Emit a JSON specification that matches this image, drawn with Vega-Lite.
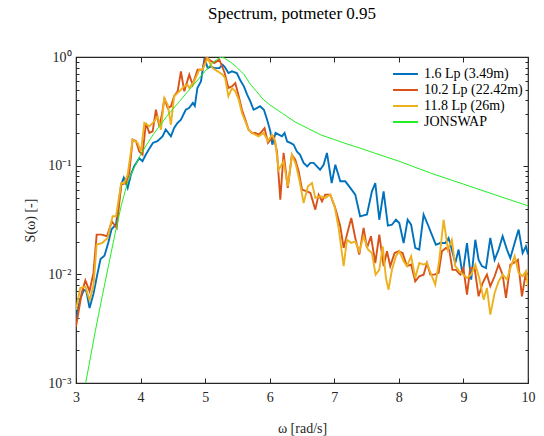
{
  "$schema": "https://vega.github.io/schema/vega-lite/v6.json",
  "width": 452,
  "height": 326,
  "autosize": {"type": "none"},
  "padding": {"left": 76, "top": 57, "right": 16, "bottom": 53},
  "title": {"text": "Spectrum, potmeter 0.95", "font": "Liberation Serif", "fontSize": 17, "fontWeight": "normal", "color": "#000000", "anchor": "middle", "offset": 27, "dx": -10},
  "config": {
    "view": {"stroke": "#262626", "strokeWidth": 1.2},
    "font": "Liberation Serif",
    "legend": {"orient": "none", "legendX": 316, "legendY": 9, "title": null, "symbolType": "stroke", "symbolSize": 620, "symbolStrokeWidth": 2, "labelFont": "Liberation Serif", "labelFontSize": 14, "labelColor": "#000000", "clipHeight": 16, "rowPadding": 0, "padding": 0, "labelOffset": 5}
  },
  "datasets": {
    "spec": [
      {"w": 3.00, "S": 0.0038, "series": "1.6 Lp (3.49m)"},
      {"w": 3.06, "S": 0.0058, "series": "1.6 Lp (3.49m)"},
      {"w": 3.12, "S": 0.0072, "series": "1.6 Lp (3.49m)"},
      {"w": 3.16, "S": 0.0070, "series": "1.6 Lp (3.49m)"},
      {"w": 3.21, "S": 0.0049, "series": "1.6 Lp (3.49m)"},
      {"w": 3.27, "S": 0.0066, "series": "1.6 Lp (3.49m)"},
      {"w": 3.33, "S": 0.0100, "series": "1.6 Lp (3.49m)"},
      {"w": 3.38, "S": 0.0138, "series": "1.6 Lp (3.49m)"},
      {"w": 3.44, "S": 0.0148, "series": "1.6 Lp (3.49m)"},
      {"w": 3.50, "S": 0.0195, "series": "1.6 Lp (3.49m)"},
      {"w": 3.55, "S": 0.0260, "series": "1.6 Lp (3.49m)"},
      {"w": 3.62, "S": 0.0288, "series": "1.6 Lp (3.49m)"},
      {"w": 3.70, "S": 0.0668, "series": "1.6 Lp (3.49m)"},
      {"w": 3.74, "S": 0.0776, "series": "1.6 Lp (3.49m)"},
      {"w": 3.80, "S": 0.0624, "series": "1.6 Lp (3.49m)"},
      {"w": 3.85, "S": 0.0826, "series": "1.6 Lp (3.49m)"},
      {"w": 3.90, "S": 0.0986, "series": "1.6 Lp (3.49m)"},
      {"w": 3.98, "S": 0.117, "series": "1.6 Lp (3.49m)"},
      {"w": 4.03, "S": 0.110, "series": "1.6 Lp (3.49m)"},
      {"w": 4.08, "S": 0.126, "series": "1.6 Lp (3.49m)"},
      {"w": 4.14, "S": 0.145, "series": "1.6 Lp (3.49m)"},
      {"w": 4.19, "S": 0.162, "series": "1.6 Lp (3.49m)"},
      {"w": 4.26, "S": 0.168, "series": "1.6 Lp (3.49m)"},
      {"w": 4.34, "S": 0.186, "series": "1.6 Lp (3.49m)"},
      {"w": 4.39, "S": 0.215, "series": "1.6 Lp (3.49m)"},
      {"w": 4.47, "S": 0.186, "series": "1.6 Lp (3.49m)"},
      {"w": 4.52, "S": 0.222, "series": "1.6 Lp (3.49m)"},
      {"w": 4.57, "S": 0.247, "series": "1.6 Lp (3.49m)"},
      {"w": 4.625, "S": 0.265, "series": "1.6 Lp (3.49m)"},
      {"w": 4.70, "S": 0.327, "series": "1.6 Lp (3.49m)"},
      {"w": 4.75, "S": 0.339, "series": "1.6 Lp (3.49m)"},
      {"w": 4.81, "S": 0.378, "series": "1.6 Lp (3.49m)"},
      {"w": 4.84, "S": 0.355, "series": "1.6 Lp (3.49m)"},
      {"w": 4.88, "S": 0.519, "series": "1.6 Lp (3.49m)"},
      {"w": 4.935, "S": 0.597, "series": "1.6 Lp (3.49m)"},
      {"w": 4.99, "S": 0.977, "series": "1.6 Lp (3.49m)"},
      {"w": 5.04, "S": 0.79, "series": "1.6 Lp (3.49m)"},
      {"w": 5.09, "S": 0.82, "series": "1.6 Lp (3.49m)"},
      {"w": 5.14, "S": 0.79, "series": "1.6 Lp (3.49m)"},
      {"w": 5.22, "S": 0.79, "series": "1.6 Lp (3.49m)"},
      {"w": 5.27, "S": 0.85, "series": "1.6 Lp (3.49m)"},
      {"w": 5.31, "S": 0.80, "series": "1.6 Lp (3.49m)"},
      {"w": 5.36, "S": 0.711, "series": "1.6 Lp (3.49m)"},
      {"w": 5.415, "S": 0.738, "series": "1.6 Lp (3.49m)"},
      {"w": 5.49, "S": 0.711, "series": "1.6 Lp (3.49m)"},
      {"w": 5.54, "S": 0.618, "series": "1.6 Lp (3.49m)"},
      {"w": 5.60, "S": 0.537, "series": "1.6 Lp (3.49m)"},
      {"w": 5.65, "S": 0.450, "series": "1.6 Lp (3.49m)"},
      {"w": 5.70, "S": 0.391, "series": "1.6 Lp (3.49m)"},
      {"w": 5.75, "S": 0.327, "series": "1.6 Lp (3.49m)"},
      {"w": 5.80, "S": 0.339, "series": "1.6 Lp (3.49m)"},
      {"w": 5.85, "S": 0.352, "series": "1.6 Lp (3.49m)"},
      {"w": 5.91, "S": 0.327, "series": "1.6 Lp (3.49m)"},
      {"w": 5.96, "S": 0.265, "series": "1.6 Lp (3.49m)"},
      {"w": 6.01, "S": 0.207, "series": "1.6 Lp (3.49m)"},
      {"w": 6.04, "S": 0.156, "series": "1.6 Lp (3.49m)"},
      {"w": 6.09, "S": 0.200, "series": "1.6 Lp (3.49m)"},
      {"w": 6.14, "S": 0.193, "series": "1.6 Lp (3.49m)"},
      {"w": 6.19, "S": 0.186, "series": "1.6 Lp (3.49m)"},
      {"w": 6.23, "S": 0.200, "series": "1.6 Lp (3.49m)"},
      {"w": 6.27, "S": 0.167, "series": "1.6 Lp (3.49m)"},
      {"w": 6.32, "S": 0.162, "series": "1.6 Lp (3.49m)"},
      {"w": 6.37, "S": 0.156, "series": "1.6 Lp (3.49m)"},
      {"w": 6.42, "S": 0.135, "series": "1.6 Lp (3.49m)"},
      {"w": 6.47, "S": 0.126, "series": "1.6 Lp (3.49m)"},
      {"w": 6.525, "S": 0.106, "series": "1.6 Lp (3.49m)"},
      {"w": 6.58, "S": 0.0986, "series": "1.6 Lp (3.49m)"},
      {"w": 6.63, "S": 0.106, "series": "1.6 Lp (3.49m)"},
      {"w": 6.68, "S": 0.106, "series": "1.6 Lp (3.49m)"},
      {"w": 6.73, "S": 0.0986, "series": "1.6 Lp (3.49m)"},
      {"w": 6.78, "S": 0.0918, "series": "1.6 Lp (3.49m)"},
      {"w": 6.835, "S": 0.102, "series": "1.6 Lp (3.49m)"},
      {"w": 6.886, "S": 0.131, "series": "1.6 Lp (3.49m)"},
      {"w": 6.96, "S": 0.0692, "series": "1.6 Lp (3.49m)"},
      {"w": 7.016, "S": 0.102, "series": "1.6 Lp (3.49m)"},
      {"w": 7.093, "S": 0.0718, "series": "1.6 Lp (3.49m)"},
      {"w": 7.17, "S": 0.0718, "series": "1.6 Lp (3.49m)"},
      {"w": 7.248, "S": 0.0624, "series": "1.6 Lp (3.49m)"},
      {"w": 7.325, "S": 0.0541, "series": "1.6 Lp (3.49m)"},
      {"w": 7.40, "S": 0.0342, "series": "1.6 Lp (3.49m)"},
      {"w": 7.506, "S": 0.0355, "series": "1.6 Lp (3.49m)"},
      {"w": 7.583, "S": 0.058, "series": "1.6 Lp (3.49m)"},
      {"w": 7.635, "S": 0.0692, "series": "1.6 Lp (3.49m)"},
      {"w": 7.697, "S": 0.0318, "series": "1.6 Lp (3.49m)"},
      {"w": 7.764, "S": 0.058, "series": "1.6 Lp (3.49m)"},
      {"w": 7.83, "S": 0.0281, "series": "1.6 Lp (3.49m)"},
      {"w": 7.893, "S": 0.0286, "series": "1.6 Lp (3.49m)"},
      {"w": 7.955, "S": 0.0318, "series": "1.6 Lp (3.49m)"},
      {"w": 8.007, "S": 0.0297, "series": "1.6 Lp (3.49m)"},
      {"w": 8.074, "S": 0.0194, "series": "1.6 Lp (3.49m)"},
      {"w": 8.136, "S": 0.0318, "series": "1.6 Lp (3.49m)"},
      {"w": 8.19, "S": 0.0286, "series": "1.6 Lp (3.49m)"},
      {"w": 8.254, "S": 0.0175, "series": "1.6 Lp (3.49m)"},
      {"w": 8.316, "S": 0.0169, "series": "1.6 Lp (3.49m)"},
      {"w": 8.383, "S": 0.0354, "series": "1.6 Lp (3.49m)"},
      {"w": 8.45, "S": 0.0286, "series": "1.6 Lp (3.49m)"},
      {"w": 8.51, "S": 0.0232, "series": "1.6 Lp (3.49m)"},
      {"w": 8.574, "S": 0.0187, "series": "1.6 Lp (3.49m)"},
      {"w": 8.64, "S": 0.0194, "series": "1.6 Lp (3.49m)"},
      {"w": 8.72, "S": 0.0194, "series": "1.6 Lp (3.49m)"},
      {"w": 8.77, "S": 0.0216, "series": "1.6 Lp (3.49m)"},
      {"w": 8.82, "S": 0.0169, "series": "1.6 Lp (3.49m)"},
      {"w": 8.874, "S": 0.0127, "series": "1.6 Lp (3.49m)"},
      {"w": 8.925, "S": 0.0169, "series": "1.6 Lp (3.49m)"},
      {"w": 8.987, "S": 0.00993, "series": "1.6 Lp (3.49m)"},
      {"w": 9.055, "S": 0.0194, "series": "1.6 Lp (3.49m)"},
      {"w": 9.12, "S": 0.00893, "series": "1.6 Lp (3.49m)"},
      {"w": 9.184, "S": 0.0208, "series": "1.6 Lp (3.49m)"},
      {"w": 9.235, "S": 0.0136, "series": "1.6 Lp (3.49m)"},
      {"w": 9.287, "S": 0.0119, "series": "1.6 Lp (3.49m)"},
      {"w": 9.349, "S": 0.0114, "series": "1.6 Lp (3.49m)"},
      {"w": 9.416, "S": 0.0216, "series": "1.6 Lp (3.49m)"},
      {"w": 9.483, "S": 0.0136, "series": "1.6 Lp (3.49m)"},
      {"w": 9.545, "S": 0.0169, "series": "1.6 Lp (3.49m)"},
      {"w": 9.607, "S": 0.0224, "series": "1.6 Lp (3.49m)"},
      {"w": 9.674, "S": 0.0169, "series": "1.6 Lp (3.49m)"},
      {"w": 9.726, "S": 0.0141, "series": "1.6 Lp (3.49m)"},
      {"w": 9.793, "S": 0.0194, "series": "1.6 Lp (3.49m)"},
      {"w": 9.855, "S": 0.0258, "series": "1.6 Lp (3.49m)"},
      {"w": 9.917, "S": 0.0157, "series": "1.6 Lp (3.49m)"},
      {"w": 9.968, "S": 0.0181, "series": "1.6 Lp (3.49m)"},
      {"w": 10.0, "S": 0.0152, "series": "1.6 Lp (3.49m)"},

      {"w": 3.00, "S": 0.0033, "series": "10.2 Lp (22.42m)"},
      {"w": 3.09, "S": 0.0068, "series": "10.2 Lp (22.42m)"},
      {"w": 3.145, "S": 0.0088, "series": "10.2 Lp (22.42m)"},
      {"w": 3.21, "S": 0.0070, "series": "10.2 Lp (22.42m)"},
      {"w": 3.27, "S": 0.0103, "series": "10.2 Lp (22.42m)"},
      {"w": 3.32, "S": 0.0232, "series": "10.2 Lp (22.42m)"},
      {"w": 3.40, "S": 0.0232, "series": "10.2 Lp (22.42m)"},
      {"w": 3.48, "S": 0.0224, "series": "10.2 Lp (22.42m)"},
      {"w": 3.555, "S": 0.0308, "series": "10.2 Lp (22.42m)"},
      {"w": 3.63, "S": 0.0267, "series": "10.2 Lp (22.42m)"},
      {"w": 3.70, "S": 0.0668, "series": "10.2 Lp (22.42m)"},
      {"w": 3.774, "S": 0.0693, "series": "10.2 Lp (22.42m)"},
      {"w": 3.825, "S": 0.0857, "series": "10.2 Lp (22.42m)"},
      {"w": 3.877, "S": 0.174, "series": "10.2 Lp (22.42m)"},
      {"w": 3.93, "S": 0.168, "series": "10.2 Lp (22.42m)"},
      {"w": 3.98, "S": 0.135, "series": "10.2 Lp (22.42m)"},
      {"w": 4.03, "S": 0.126, "series": "10.2 Lp (22.42m)"},
      {"w": 4.083, "S": 0.247, "series": "10.2 Lp (22.42m)"},
      {"w": 4.135, "S": 0.200, "series": "10.2 Lp (22.42m)"},
      {"w": 4.187, "S": 0.207, "series": "10.2 Lp (22.42m)"},
      {"w": 4.238, "S": 0.327, "series": "10.2 Lp (22.42m)"},
      {"w": 4.29, "S": 0.230, "series": "10.2 Lp (22.42m)"},
      {"w": 4.33, "S": 0.294, "series": "10.2 Lp (22.42m)"},
      {"w": 4.37, "S": 0.420, "series": "10.2 Lp (22.42m)"},
      {"w": 4.42, "S": 0.339, "series": "10.2 Lp (22.42m)"},
      {"w": 4.47, "S": 0.352, "series": "10.2 Lp (22.42m)"},
      {"w": 4.52, "S": 0.435, "series": "10.2 Lp (22.42m)"},
      {"w": 4.574, "S": 0.483, "series": "10.2 Lp (22.42m)"},
      {"w": 4.625, "S": 0.738, "series": "10.2 Lp (22.42m)"},
      {"w": 4.677, "S": 0.483, "series": "10.2 Lp (22.42m)"},
      {"w": 4.754, "S": 0.687, "series": "10.2 Lp (22.42m)"},
      {"w": 4.806, "S": 0.556, "series": "10.2 Lp (22.42m)"},
      {"w": 4.883, "S": 0.764, "series": "10.2 Lp (22.42m)"},
      {"w": 4.96, "S": 0.764, "series": "10.2 Lp (22.42m)"},
      {"w": 5.012, "S": 1.0, "series": "10.2 Lp (22.42m)"},
      {"w": 5.064, "S": 0.944, "series": "10.2 Lp (22.42m)"},
      {"w": 5.141, "S": 0.88, "series": "10.2 Lp (22.42m)"},
      {"w": 5.22, "S": 0.944, "series": "10.2 Lp (22.42m)"},
      {"w": 5.30, "S": 0.72, "series": "10.2 Lp (22.42m)"},
      {"w": 5.36, "S": 0.519, "series": "10.2 Lp (22.42m)"},
      {"w": 5.415, "S": 0.537, "series": "10.2 Lp (22.42m)"},
      {"w": 5.467, "S": 0.575, "series": "10.2 Lp (22.42m)"},
      {"w": 5.52, "S": 0.435, "series": "10.2 Lp (22.42m)"},
      {"w": 5.57, "S": 0.327, "series": "10.2 Lp (22.42m)"},
      {"w": 5.622, "S": 0.265, "series": "10.2 Lp (22.42m)"},
      {"w": 5.673, "S": 0.214, "series": "10.2 Lp (22.42m)"},
      {"w": 5.725, "S": 0.200, "series": "10.2 Lp (22.42m)"},
      {"w": 5.777, "S": 0.200, "series": "10.2 Lp (22.42m)"},
      {"w": 5.828, "S": 0.193, "series": "10.2 Lp (22.42m)"},
      {"w": 5.88, "S": 0.207, "series": "10.2 Lp (22.42m)"},
      {"w": 5.92, "S": 0.222, "series": "10.2 Lp (22.42m)"},
      {"w": 5.973, "S": 0.162, "series": "10.2 Lp (22.42m)"},
      {"w": 6.01, "S": 0.173, "series": "10.2 Lp (22.42m)"},
      {"w": 6.06, "S": 0.186, "series": "10.2 Lp (22.42m)"},
      {"w": 6.112, "S": 0.135, "series": "10.2 Lp (22.42m)"},
      {"w": 6.164, "S": 0.0486, "series": "10.2 Lp (22.42m)"},
      {"w": 6.215, "S": 0.131, "series": "10.2 Lp (22.42m)"},
      {"w": 6.28, "S": 0.0624, "series": "10.2 Lp (22.42m)"},
      {"w": 6.344, "S": 0.126, "series": "10.2 Lp (22.42m)"},
      {"w": 6.396, "S": 0.1135, "series": "10.2 Lp (22.42m)"},
      {"w": 6.448, "S": 0.0887, "series": "10.2 Lp (22.42m)"},
      {"w": 6.50, "S": 0.0603, "series": "10.2 Lp (22.42m)"},
      {"w": 6.577, "S": 0.058, "series": "10.2 Lp (22.42m)"},
      {"w": 6.63, "S": 0.0561, "series": "10.2 Lp (22.42m)"},
      {"w": 6.706, "S": 0.0394, "series": "10.2 Lp (22.42m)"},
      {"w": 6.757, "S": 0.0541, "series": "10.2 Lp (22.42m)"},
      {"w": 6.81, "S": 0.047, "series": "10.2 Lp (22.42m)"},
      {"w": 6.86, "S": 0.0541, "series": "10.2 Lp (22.42m)"},
      {"w": 6.938, "S": 0.0541, "series": "10.2 Lp (22.42m)"},
      {"w": 7.015, "S": 0.0408, "series": "10.2 Lp (22.42m)"},
      {"w": 7.093, "S": 0.0277, "series": "10.2 Lp (22.42m)"},
      {"w": 7.145, "S": 0.0175, "series": "10.2 Lp (22.42m)"},
      {"w": 7.196, "S": 0.0232, "series": "10.2 Lp (22.42m)"},
      {"w": 7.263, "S": 0.033, "series": "10.2 Lp (22.42m)"},
      {"w": 7.325, "S": 0.0216, "series": "10.2 Lp (22.42m)"},
      {"w": 7.387, "S": 0.0152, "series": "10.2 Lp (22.42m)"},
      {"w": 7.454, "S": 0.0267, "series": "10.2 Lp (22.42m)"},
      {"w": 7.506, "S": 0.0175, "series": "10.2 Lp (22.42m)"},
      {"w": 7.568, "S": 0.0224, "series": "10.2 Lp (22.42m)"},
      {"w": 7.635, "S": 0.0127, "series": "10.2 Lp (22.42m)"},
      {"w": 7.697, "S": 0.0232, "series": "10.2 Lp (22.42m)"},
      {"w": 7.764, "S": 0.0119, "series": "10.2 Lp (22.42m)"},
      {"w": 7.816, "S": 0.0163, "series": "10.2 Lp (22.42m)"},
      {"w": 7.867, "S": 0.0119, "series": "10.2 Lp (22.42m)"},
      {"w": 7.934, "S": 0.0157, "series": "10.2 Lp (22.42m)"},
      {"w": 7.996, "S": 0.0163, "series": "10.2 Lp (22.42m)"},
      {"w": 8.058, "S": 0.0157, "series": "10.2 Lp (22.42m)"},
      {"w": 8.125, "S": 0.0119, "series": "10.2 Lp (22.42m)"},
      {"w": 8.19, "S": 0.0123, "series": "10.2 Lp (22.42m)"},
      {"w": 8.254, "S": 0.00863, "series": "10.2 Lp (22.42m)"},
      {"w": 8.316, "S": 0.0096, "series": "10.2 Lp (22.42m)"},
      {"w": 8.383, "S": 0.00993, "series": "10.2 Lp (22.42m)"},
      {"w": 8.435, "S": 0.0127, "series": "10.2 Lp (22.42m)"},
      {"w": 8.487, "S": 0.00993, "series": "10.2 Lp (22.42m)"},
      {"w": 8.554, "S": 0.00993, "series": "10.2 Lp (22.42m)"},
      {"w": 8.616, "S": 0.0103, "series": "10.2 Lp (22.42m)"},
      {"w": 8.667, "S": 0.0163, "series": "10.2 Lp (22.42m)"},
      {"w": 8.73, "S": 0.0175, "series": "10.2 Lp (22.42m)"},
      {"w": 8.78, "S": 0.0169, "series": "10.2 Lp (22.42m)"},
      {"w": 8.83, "S": 0.011, "series": "10.2 Lp (22.42m)"},
      {"w": 8.884, "S": 0.011, "series": "10.2 Lp (22.42m)"},
      {"w": 8.95, "S": 0.00993, "series": "10.2 Lp (22.42m)"},
      {"w": 9.0, "S": 0.0114, "series": "10.2 Lp (22.42m)"},
      {"w": 9.055, "S": 0.0065, "series": "10.2 Lp (22.42m)"},
      {"w": 9.106, "S": 0.0114, "series": "10.2 Lp (22.42m)"},
      {"w": 9.173, "S": 0.0114, "series": "10.2 Lp (22.42m)"},
      {"w": 9.235, "S": 0.00628, "series": "10.2 Lp (22.42m)"},
      {"w": 9.297, "S": 0.00832, "series": "10.2 Lp (22.42m)"},
      {"w": 9.364, "S": 0.00993, "series": "10.2 Lp (22.42m)"},
      {"w": 9.416, "S": 0.00776, "series": "10.2 Lp (22.42m)"},
      {"w": 9.483, "S": 0.0096, "series": "10.2 Lp (22.42m)"},
      {"w": 9.545, "S": 0.0123, "series": "10.2 Lp (22.42m)"},
      {"w": 9.607, "S": 0.00993, "series": "10.2 Lp (22.42m)"},
      {"w": 9.659, "S": 0.00606, "series": "10.2 Lp (22.42m)"},
      {"w": 9.726, "S": 0.0123, "series": "10.2 Lp (22.42m)"},
      {"w": 9.777, "S": 0.0127, "series": "10.2 Lp (22.42m)"},
      {"w": 9.844, "S": 0.0136, "series": "10.2 Lp (22.42m)"},
      {"w": 9.906, "S": 0.00628, "series": "10.2 Lp (22.42m)"},
      {"w": 9.958, "S": 0.0096, "series": "10.2 Lp (22.42m)"},
      {"w": 10.0, "S": 0.0103, "series": "10.2 Lp (22.42m)"},

      {"w": 3.00, "S": 0.0047, "series": "11.8 Lp (26m)"},
      {"w": 3.066, "S": 0.0075, "series": "11.8 Lp (26m)"},
      {"w": 3.145, "S": 0.0077, "series": "11.8 Lp (26m)"},
      {"w": 3.21, "S": 0.0058, "series": "11.8 Lp (26m)"},
      {"w": 3.27, "S": 0.0078, "series": "11.8 Lp (26m)"},
      {"w": 3.32, "S": 0.0188, "series": "11.8 Lp (26m)"},
      {"w": 3.41, "S": 0.0195, "series": "11.8 Lp (26m)"},
      {"w": 3.49, "S": 0.0216, "series": "11.8 Lp (26m)"},
      {"w": 3.567, "S": 0.0342, "series": "11.8 Lp (26m)"},
      {"w": 3.62, "S": 0.0342, "series": "11.8 Lp (26m)"},
      {"w": 3.70, "S": 0.0693, "series": "11.8 Lp (26m)"},
      {"w": 3.748, "S": 0.0693, "series": "11.8 Lp (26m)"},
      {"w": 3.80, "S": 0.0826, "series": "11.8 Lp (26m)"},
      {"w": 3.877, "S": 0.174, "series": "11.8 Lp (26m)"},
      {"w": 3.954, "S": 0.162, "series": "11.8 Lp (26m)"},
      {"w": 4.006, "S": 0.135, "series": "11.8 Lp (26m)"},
      {"w": 4.058, "S": 0.247, "series": "11.8 Lp (26m)"},
      {"w": 4.135, "S": 0.230, "series": "11.8 Lp (26m)"},
      {"w": 4.212, "S": 0.256, "series": "11.8 Lp (26m)"},
      {"w": 4.264, "S": 0.284, "series": "11.8 Lp (26m)"},
      {"w": 4.316, "S": 0.214, "series": "11.8 Lp (26m)"},
      {"w": 4.367, "S": 0.420, "series": "11.8 Lp (26m)"},
      {"w": 4.42, "S": 0.364, "series": "11.8 Lp (26m)"},
      {"w": 4.47, "S": 0.238, "series": "11.8 Lp (26m)"},
      {"w": 4.52, "S": 0.435, "series": "11.8 Lp (26m)"},
      {"w": 4.60, "S": 0.483, "series": "11.8 Lp (26m)"},
      {"w": 4.677, "S": 0.537, "series": "11.8 Lp (26m)"},
      {"w": 4.728, "S": 0.556, "series": "11.8 Lp (26m)"},
      {"w": 4.754, "S": 0.518, "series": "11.8 Lp (26m)"},
      {"w": 4.83, "S": 0.597, "series": "11.8 Lp (26m)"},
      {"w": 4.91, "S": 0.764, "series": "11.8 Lp (26m)"},
      {"w": 4.96, "S": 0.764, "series": "11.8 Lp (26m)"},
      {"w": 5.038, "S": 0.977, "series": "11.8 Lp (26m)"},
      {"w": 5.115, "S": 0.79, "series": "11.8 Lp (26m)"},
      {"w": 5.193, "S": 0.738, "series": "11.8 Lp (26m)"},
      {"w": 5.27, "S": 0.687, "series": "11.8 Lp (26m)"},
      {"w": 5.31, "S": 0.64, "series": "11.8 Lp (26m)"},
      {"w": 5.36, "S": 0.435, "series": "11.8 Lp (26m)"},
      {"w": 5.415, "S": 0.518, "series": "11.8 Lp (26m)"},
      {"w": 5.467, "S": 0.483, "series": "11.8 Lp (26m)"},
      {"w": 5.52, "S": 0.405, "series": "11.8 Lp (26m)"},
      {"w": 5.57, "S": 0.305, "series": "11.8 Lp (26m)"},
      {"w": 5.622, "S": 0.256, "series": "11.8 Lp (26m)"},
      {"w": 5.673, "S": 0.214, "series": "11.8 Lp (26m)"},
      {"w": 5.725, "S": 0.200, "series": "11.8 Lp (26m)"},
      {"w": 5.777, "S": 0.193, "series": "11.8 Lp (26m)"},
      {"w": 5.828, "S": 0.186, "series": "11.8 Lp (26m)"},
      {"w": 5.906, "S": 0.200, "series": "11.8 Lp (26m)"},
      {"w": 5.973, "S": 0.168, "series": "11.8 Lp (26m)"},
      {"w": 6.035, "S": 0.193, "series": "11.8 Lp (26m)"},
      {"w": 6.086, "S": 0.168, "series": "11.8 Lp (26m)"},
      {"w": 6.138, "S": 0.0918, "series": "11.8 Lp (26m)"},
      {"w": 6.215, "S": 0.110, "series": "11.8 Lp (26m)"},
      {"w": 6.28, "S": 0.0646, "series": "11.8 Lp (26m)"},
      {"w": 6.344, "S": 0.126, "series": "11.8 Lp (26m)"},
      {"w": 6.406, "S": 0.102, "series": "11.8 Lp (26m)"},
      {"w": 6.458, "S": 0.0743, "series": "11.8 Lp (26m)"},
      {"w": 6.525, "S": 0.0453, "series": "11.8 Lp (26m)"},
      {"w": 6.592, "S": 0.0646, "series": "11.8 Lp (26m)"},
      {"w": 6.654, "S": 0.0692, "series": "11.8 Lp (26m)"},
      {"w": 6.706, "S": 0.0505, "series": "11.8 Lp (26m)"},
      {"w": 6.783, "S": 0.0522, "series": "11.8 Lp (26m)"},
      {"w": 6.86, "S": 0.0505, "series": "11.8 Lp (26m)"},
      {"w": 6.938, "S": 0.0541, "series": "11.8 Lp (26m)"},
      {"w": 7.005, "S": 0.0423, "series": "11.8 Lp (26m)"},
      {"w": 7.067, "S": 0.0267, "series": "11.8 Lp (26m)"},
      {"w": 7.145, "S": 0.0119, "series": "11.8 Lp (26m)"},
      {"w": 7.196, "S": 0.0208, "series": "11.8 Lp (26m)"},
      {"w": 7.263, "S": 0.0195, "series": "11.8 Lp (26m)"},
      {"w": 7.325, "S": 0.0201, "series": "11.8 Lp (26m)"},
      {"w": 7.387, "S": 0.0163, "series": "11.8 Lp (26m)"},
      {"w": 7.454, "S": 0.0224, "series": "11.8 Lp (26m)"},
      {"w": 7.52, "S": 0.0169, "series": "11.8 Lp (26m)"},
      {"w": 7.583, "S": 0.0157, "series": "11.8 Lp (26m)"},
      {"w": 7.64, "S": 0.00993, "series": "11.8 Lp (26m)"},
      {"w": 7.697, "S": 0.011, "series": "11.8 Lp (26m)"},
      {"w": 7.75, "S": 0.0181, "series": "11.8 Lp (26m)"},
      {"w": 7.80, "S": 0.00925, "series": "11.8 Lp (26m)"},
      {"w": 7.84, "S": 0.00722, "series": "11.8 Lp (26m)"},
      {"w": 7.893, "S": 0.011, "series": "11.8 Lp (26m)"},
      {"w": 7.955, "S": 0.0147, "series": "11.8 Lp (26m)"},
      {"w": 8.007, "S": 0.0163, "series": "11.8 Lp (26m)"},
      {"w": 8.074, "S": 0.0132, "series": "11.8 Lp (26m)"},
      {"w": 8.125, "S": 0.0119, "series": "11.8 Lp (26m)"},
      {"w": 8.19, "S": 0.0147, "series": "11.8 Lp (26m)"},
      {"w": 8.254, "S": 0.00925, "series": "11.8 Lp (26m)"},
      {"w": 8.316, "S": 0.0127, "series": "11.8 Lp (26m)"},
      {"w": 8.383, "S": 0.0123, "series": "11.8 Lp (26m)"},
      {"w": 8.435, "S": 0.0127, "series": "11.8 Lp (26m)"},
      {"w": 8.502, "S": 0.00993, "series": "11.8 Lp (26m)"},
      {"w": 8.564, "S": 0.00804, "series": "11.8 Lp (26m)"},
      {"w": 8.626, "S": 0.0136, "series": "11.8 Lp (26m)"},
      {"w": 8.693, "S": 0.0318, "series": "11.8 Lp (26m)"},
      {"w": 8.76, "S": 0.0169, "series": "11.8 Lp (26m)"},
      {"w": 8.82, "S": 0.0208, "series": "11.8 Lp (26m)"},
      {"w": 8.874, "S": 0.0119, "series": "11.8 Lp (26m)"},
      {"w": 8.936, "S": 0.0107, "series": "11.8 Lp (26m)"},
      {"w": 9.0, "S": 0.00993, "series": "11.8 Lp (26m)"},
      {"w": 9.055, "S": 0.00925, "series": "11.8 Lp (26m)"},
      {"w": 9.12, "S": 0.00993, "series": "11.8 Lp (26m)"},
      {"w": 9.184, "S": 0.0123, "series": "11.8 Lp (26m)"},
      {"w": 9.245, "S": 0.00925, "series": "11.8 Lp (26m)"},
      {"w": 9.313, "S": 0.00585, "series": "11.8 Lp (26m)"},
      {"w": 9.364, "S": 0.00749, "series": "11.8 Lp (26m)"},
      {"w": 9.416, "S": 0.00426, "series": "11.8 Lp (26m)"},
      {"w": 9.483, "S": 0.00673, "series": "11.8 Lp (26m)"},
      {"w": 9.545, "S": 0.00863, "series": "11.8 Lp (26m)"},
      {"w": 9.607, "S": 0.00993, "series": "11.8 Lp (26m)"},
      {"w": 9.674, "S": 0.00893, "series": "11.8 Lp (26m)"},
      {"w": 9.726, "S": 0.0114, "series": "11.8 Lp (26m)"},
      {"w": 9.793, "S": 0.0147, "series": "11.8 Lp (26m)"},
      {"w": 9.855, "S": 0.0103, "series": "11.8 Lp (26m)"},
      {"w": 9.917, "S": 0.0096, "series": "11.8 Lp (26m)"},
      {"w": 9.968, "S": 0.0107, "series": "11.8 Lp (26m)"},
      {"w": 10.0, "S": 0.00776, "series": "11.8 Lp (26m)"}
    ],
    "jonswap": [
      {"w": 3.10, "S": 0.000708, "series": "JONSWAP"},
      {"w": 3.15, "S": 0.0010, "series": "JONSWAP"},
      {"w": 3.2, "S": 0.001445, "series": "JONSWAP"},
      {"w": 3.3, "S": 0.00302, "series": "JONSWAP"},
      {"w": 3.4, "S": 0.00603, "series": "JONSWAP"},
      {"w": 3.5, "S": 0.01175, "series": "JONSWAP"},
      {"w": 3.6, "S": 0.0229, "series": "JONSWAP"},
      {"w": 3.7, "S": 0.0427, "series": "JONSWAP"},
      {"w": 3.8, "S": 0.0708, "series": "JONSWAP"},
      {"w": 3.9, "S": 0.0955, "series": "JONSWAP"},
      {"w": 4.0, "S": 0.126, "series": "JONSWAP"},
      {"w": 4.1, "S": 0.158, "series": "JONSWAP"},
      {"w": 4.2, "S": 0.195, "series": "JONSWAP"},
      {"w": 4.3, "S": 0.234, "series": "JONSWAP"},
      {"w": 4.4, "S": 0.282, "series": "JONSWAP"},
      {"w": 4.5, "S": 0.331, "series": "JONSWAP"},
      {"w": 4.6, "S": 0.389, "series": "JONSWAP"},
      {"w": 4.7, "S": 0.457, "series": "JONSWAP"},
      {"w": 4.8, "S": 0.537, "series": "JONSWAP"},
      {"w": 4.9, "S": 0.631, "series": "JONSWAP"},
      {"w": 5.0, "S": 0.741, "series": "JONSWAP"},
      {"w": 5.1, "S": 0.871, "series": "JONSWAP"},
      {"w": 5.2, "S": 0.966, "series": "JONSWAP"},
      {"w": 5.25, "S": 1.0, "series": "JONSWAP"},
      {"w": 5.3, "S": 0.977, "series": "JONSWAP"},
      {"w": 5.4, "S": 0.891, "series": "JONSWAP"},
      {"w": 5.5, "S": 0.794, "series": "JONSWAP"},
      {"w": 5.6, "S": 0.692, "series": "JONSWAP"},
      {"w": 5.7, "S": 0.562, "series": "JONSWAP"},
      {"w": 5.8, "S": 0.479, "series": "JONSWAP"},
      {"w": 5.9, "S": 0.407, "series": "JONSWAP"},
      {"w": 6.0, "S": 0.363, "series": "JONSWAP"},
      {"w": 6.2, "S": 0.302, "series": "JONSWAP"},
      {"w": 6.4, "S": 0.251, "series": "JONSWAP"},
      {"w": 6.6, "S": 0.219, "series": "JONSWAP"},
      {"w": 6.8, "S": 0.191, "series": "JONSWAP"},
      {"w": 7.0, "S": 0.174, "series": "JONSWAP"},
      {"w": 7.2, "S": 0.158, "series": "JONSWAP"},
      {"w": 7.4, "S": 0.145, "series": "JONSWAP"},
      {"w": 7.6, "S": 0.132, "series": "JONSWAP"},
      {"w": 8.0, "S": 0.110, "series": "JONSWAP"},
      {"w": 8.5, "S": 0.0851, "series": "JONSWAP"},
      {"w": 9.0, "S": 0.0676, "series": "JONSWAP"},
      {"w": 9.5, "S": 0.0537, "series": "JONSWAP"},
      {"w": 10.0, "S": 0.0427, "series": "JONSWAP"}
    ]
  },
  "resolve": {"axis": {"x": "independent", "y": "independent"}},
  "layer": [
    {
      "data": {"name": "spec"},
      "mark": {"type": "line", "strokeWidth": 1.9, "clip": true},
      "encoding": {
        "x": {"field": "w", "type": "quantitative",
          "scale": {"domain": [3, 10], "nice": false, "zero": false},
          "axis": {"orient": "bottom", "values": [3, 4, 5, 6, 7, 8, 9, 10], "format": "d", "tickSize": -5, "tickColor": "#262626", "tickWidth": 1, "domain": false, "grid": false, "labelFlush": false, "labelBound": false, "labelPadding": 12, "labelFont": "Liberation Serif", "labelFontSize": 14, "labelColor": "#262626", "title": "ω [rad/s]", "titleFont": "Liberation Serif", "titleFontSize": 14, "titleFontWeight": "normal", "titleColor": "#262626", "titlePadding": 17}},
        "y": {"field": "S", "type": "quantitative",
          "scale": {"type": "log", "domain": [0.001, 1], "nice": false},
          "axis": {"orient": "left", "values": [0.001, 0.002, 0.003, 0.004, 0.005, 0.006, 0.007, 0.008, 0.009, 0.01, 0.02, 0.03, 0.04, 0.05, 0.06, 0.07, 0.08, 0.09, 0.1, 0.2, 0.3, 0.4, 0.5, 0.6, 0.7, 0.8, 0.9, 1],
            "labelExpr": "datum.value == 1 ? '10⁰' : datum.value == 0.1 ? '10⁻¹' : datum.value == 0.01 ? '10⁻²' : datum.value == 0.001 ? '10⁻³' : ''",
            "tickSize": {"condition": {"test": "datum.value == 1 || datum.value == 0.1 || datum.value == 0.01 || datum.value == 0.001", "value": -5}, "value": -3},
            "tickColor": "#262626", "domain": false, "grid": false, "labelOverlap": false, "labelBound": false, "labelFlush": false, "labelPadding": 10, "labelFont": "Liberation Serif", "labelFontSize": 14, "labelColor": "#262626", "title": "S(ω) [-]", "titleFont": "Liberation Serif", "titleFontSize": 14, "titleFontWeight": "normal", "titleColor": "#262626", "titlePadding": 10}},
        "color": {"field": "series", "type": "nominal",
          "scale": {"domain": ["1.6 Lp (3.49m)", "10.2 Lp (22.42m)", "11.8 Lp (26m)", "JONSWAP"], "range": ["#0072BD", "#D95319", "#EDB120", "#22EE22"]}}
      }
    },
    {
      "data": {"name": "jonswap"},
      "mark": {"type": "line", "strokeWidth": 1, "clip": true},
      "encoding": {
        "x": {"field": "w", "type": "quantitative",
          "scale": {"domain": [3, 10], "nice": false, "zero": false},
          "axis": {"orient": "top", "values": [3, 4, 5, 6, 7, 8, 9, 10], "labels": false, "tickSize": -5, "tickColor": "#262626", "domain": false, "grid": false, "title": null}},
        "y": {"field": "S", "type": "quantitative",
          "scale": {"type": "log", "domain": [0.001, 1], "nice": false},
          "axis": {"orient": "right", "values": [0.001, 0.002, 0.003, 0.004, 0.005, 0.006, 0.007, 0.008, 0.009, 0.01, 0.02, 0.03, 0.04, 0.05, 0.06, 0.07, 0.08, 0.09, 0.1, 0.2, 0.3, 0.4, 0.5, 0.6, 0.7, 0.8, 0.9, 1], "labels": false,
            "tickSize": {"condition": {"test": "datum.value == 1 || datum.value == 0.1 || datum.value == 0.01 || datum.value == 0.001", "value": -5}, "value": -3},
            "tickColor": "#262626", "domain": false, "grid": false, "title": null}},
        "color": {"field": "series", "type": "nominal",
          "scale": {"domain": ["1.6 Lp (3.49m)", "10.2 Lp (22.42m)", "11.8 Lp (26m)", "JONSWAP"], "range": ["#0072BD", "#D95319", "#EDB120", "#22EE22"]}}
      }
    }
  ]
}
